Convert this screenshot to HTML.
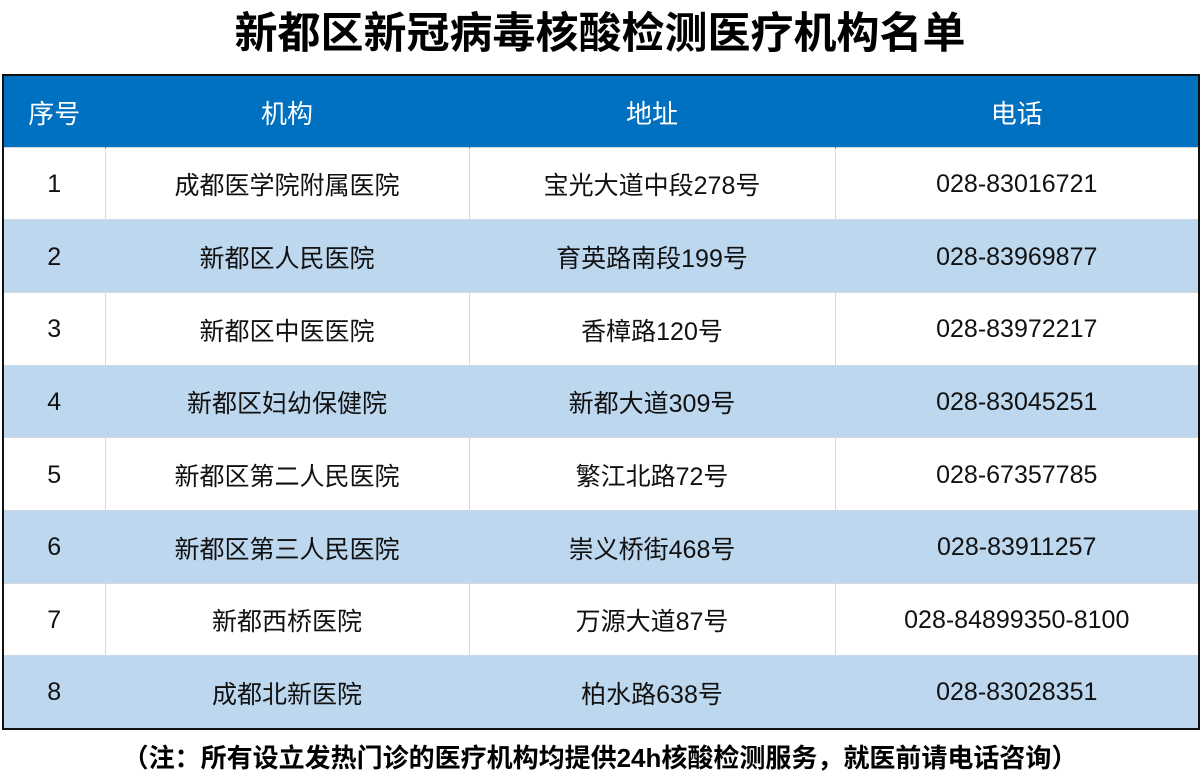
<!DOCTYPE html>
<html><head><meta charset="utf-8"><style>
body{margin:0;width:1200px;height:780px;background:#fff;font-family:"Liberation Sans","Noto Sans CJK SC",sans-serif;position:relative;overflow:hidden}
.title{position:absolute;top:6px;left:0;width:1200px;text-align:center;font-size:43px;font-weight:bold;color:#000;line-height:56px}
table{position:absolute;left:2px;top:74px;width:1196px;border-collapse:collapse;border:2px solid #111;table-layout:fixed}
td,th{height:72.7px;padding:0;padding-top:2px;text-align:center;font-size:25px;color:#111;border-left:1px solid #d8d8d8;border-top:1px solid #d8d8d8;box-sizing:border-box}
th{background:#0070C0;color:#fff;font-weight:normal;height:72px;border-color:#0070C0;font-size:26px}
tr:nth-child(odd) td{background:#BDD7EE;border-color:#c8d8e6}
.foot{position:absolute;top:738px;left:0;width:1200px;text-align:center;font-size:26px;font-weight:bold;color:#000;line-height:40px}
</style></head><body>
<div class="title">新都区新冠病毒核酸检测医疗机构名单</div>
<table>
<colgroup><col style="width:102px"><col style="width:364px"><col style="width:366px"><col style="width:364px"></colgroup>
<tr><th>序号</th><th>机构</th><th>地址</th><th>电话</th></tr>
<tr><td>1</td><td>成都医学院附属医院</td><td>宝光大道中段278号</td><td>028-83016721</td></tr>
<tr><td>2</td><td>新都区人民医院</td><td>育英路南段199号</td><td>028-83969877</td></tr>
<tr><td>3</td><td>新都区中医医院</td><td>香樟路120号</td><td>028-83972217</td></tr>
<tr><td>4</td><td>新都区妇幼保健院</td><td>新都大道309号</td><td>028-83045251</td></tr>
<tr><td>5</td><td>新都区第二人民医院</td><td>繁江北路72号</td><td>028-67357785</td></tr>
<tr><td>6</td><td>新都区第三人民医院</td><td>崇义桥街468号</td><td>028-83911257</td></tr>
<tr><td>7</td><td>新都西桥医院</td><td>万源大道87号</td><td>028-84899350-8100</td></tr>
<tr><td>8</td><td>成都北新医院</td><td>柏水路638号</td><td>028-83028351</td></tr>
</table>
<div class="foot">（注：所有设立发热门诊的医疗机构均提供24h核酸检测服务，就医前请电话咨询）</div>
</body></html>
